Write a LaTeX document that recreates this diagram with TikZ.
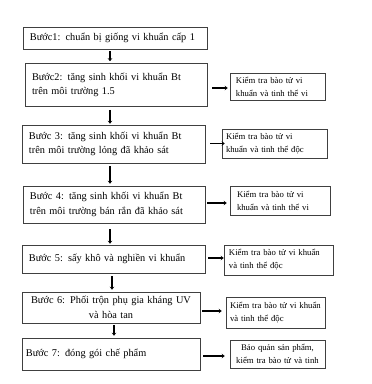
\documentclass[tikz,border=0pt]{standalone}
\usepackage{fontspec}
\setmainfont{Liberation Serif}
\usetikzlibrary{arrows.meta}
\begin{document}
\begin{tikzpicture}[x=1pt,y=-1pt,
  stepbox/.style={draw=black!75, line width=0.6pt, rectangle, inner sep=0pt, font=\fontsize{10.3}{14.5}\selectfont, align=left},
  checkbox/.style={draw=black!75, line width=0.6pt, rectangle, inner sep=0pt, font=\fontsize{8.7}{13}\selectfont, align=left},
  flow/.style={line width=1.6pt, -{Stealth[length=3pt,width=4.5pt]}}]
\useasboundingbox (0,0) rectangle (372,384);
\fill[white] (0,0) rectangle (372,384);
% left steps
\node[stepbox, minimum width=184pt, minimum height=22pt, text width=170pt] (L1) at (115,38) {Bước1: chuẩn bị giống vi khuẩn cấp 1};
\node[stepbox, minimum width=182pt, minimum height=43pt, text width=168pt] (L2) at (116,85) {Bước2: tăng sinh khối vi khuẩn Bt\\trên môi trường 1.5};
\node[stepbox, minimum width=183pt, minimum height=38pt, text width=169pt] (L3) at (113.5,144) {Bước 3: tăng sinh khối vi khuẩn Bt\\trên môi trường lỏng đã khảo sát};
\node[stepbox, minimum width=182pt, minimum height=37pt, text width=168pt] (L4) at (114,204.5) {Bước 4: tăng sinh khối vi khuẩn Bt\\trên môi trường bán rắn đã khảo sát};
\node[stepbox, minimum width=183pt, minimum height=28pt, text width=169pt] (L5) at (113.5,259) {Bước 5: sấy khô và nghiền vi khuẩn};
\node[stepbox, minimum width=178pt, minimum height=31pt, text width=170pt, align=center] (L6) at (111,307.5) {Bước 6: Phối trộn phụ gia kháng UV\\và hòa tan};
\node[stepbox, minimum width=178pt, minimum height=32pt, text width=170pt] (L7) at (111,354) {Bước 7: đóng gói chế phẩm};
% right checks
\node[checkbox, minimum width=95pt, minimum height=27pt, text width=83pt] (R2) at (277.5,86.5) {Kiểm tra bào tử vi\\khuẩn và tinh thể vi};
\node[checkbox, minimum width=105pt, minimum height=29pt, text width=97pt] (R3) at (274.5,143.5) {Kiểm tra bào tử vi\\khuẩn và tinh thể độc};
\node[checkbox, minimum width=100pt, minimum height=29pt, text width=86pt] (R4) at (280,200.5) {Kiểm tra bào tử vi\\khuẩn và tinh thể vi};
\node[checkbox, minimum width=109pt, minimum height=30pt, text width=99pt] (R5) at (278.5,260) {Kiểm tra bào tử vi khuẩn\\và tinh thể độc};
\node[checkbox, minimum width=99pt, minimum height=31pt, text width=91pt] (R6) at (275.5,312.5) {Kiểm tra bào tử vi khuẩn\\và tinh thể độc};
\node[checkbox, minimum width=95pt, minimum height=28pt, text width=92pt, align=center] (R7) at (277.5,354) {Bảo quản sản phẩm,\\kiểm tra bào tử và tinh};
% vertical flow
\draw[flow, shorten <=2pt, shorten >=2pt] (L1.south -| 110,0) -- (L2.north -| 110,0);
\draw[flow, shorten <=3pt, shorten >=1pt] (L2.south -| 110,0) -- (L3.north -| 110,0);
\draw[flow, shorten <=3pt, shorten >=2pt] (L3.south -| 110,0) -- (L4.north -| 110,0);
\draw[flow, shorten <=6pt, shorten >=1pt] (L4.south -| 110,0) -- (L5.north -| 110,0);
\draw[flow, shorten <=3pt, shorten >=2pt] (L5.south -| 112,0) -- (L6.north -| 112,0);
\draw[flow, shorten <=2pt, shorten >=2pt] (L6.south -| 114,0) -- (L7.north -| 114,0);
% horizontal flow
\draw[flow, shorten <=5pt, shorten >=2pt] (L2.east |- 0,88) -- (R2.west |- 0,88);
\draw[flow, shorten <=5pt, shorten >=-3pt] (L3.east |- R3.west) -- (R3.west);
\draw[flow, shorten <=2pt, shorten >=3pt] (L4.east |- 0,203) -- (R4.west |- 0,203);
\draw[flow, shorten <=3pt, shorten >=0pt] (L5.east |- 0,258) -- (R5.west |- 0,258);
\draw[flow, shorten <=2pt, shorten >=4pt] (L6.east |- 0,311) -- (R6.west |- 0,311);
\draw[flow, shorten <=3pt, shorten >=5pt] (L7.east |- 0,356) -- (R7.west |- 0,356);
\end{tikzpicture}
\end{document}
